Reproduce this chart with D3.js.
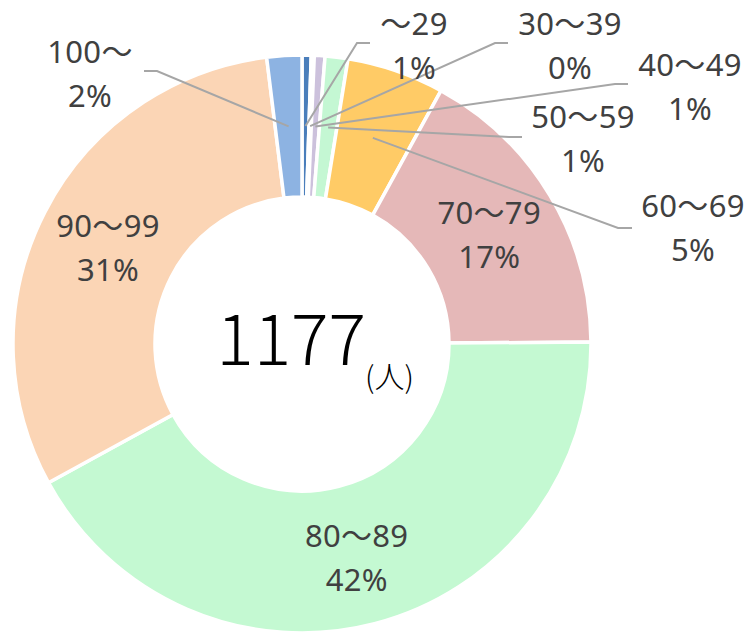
<!DOCTYPE html>
<html>
<head>
<meta charset="utf-8">
<script src="https://cdn.jsdelivr.net/npm/d3@7"></script>
<style>
html,body{margin:0;padding:0;background:#fff;}
svg{display:block;}
</style>
</head>
<body>
<svg id="chart" width="747" height="635"></svg>
<script>
// ---- data ----
const categories = ["～29","30～39","40～49","50～59","60～69","70～79","80～89","90～99","100～"];
const counts = [6, 2, 7, 15, 64, 199, 496, 365, 23];
const colors = ["#4a7ebb","#dcd6e8","#ccc1dc","#c4f7d3","#ffcb66","#e5b8b8","#c4f9d2","#fbd5b5","#8db3e2"];
const totalLabel = "1177";
const unitLabel = "(人)";

// ---- layout (not data) ----
const cx = 302, cy = 344, outerR = 289, innerR = 147;
// outside label placement: [text center x, first baseline y, elbow start x, elbow end x, elbow y]
const outsideLayout = {
  "～29":  [414, 35, 370, 357, 43],
  "30～39":[570, 35, 508, 495, 43],
  "40～49":[690, 76, 628, 615, 84],
  "50～59":[583, 128, 522, 509, 137],
  "60～69":[693, 217, 632, 618, 228],
  "100～": [90, 63, 144, 157, 71]
};

const svg = d3.select("#chart");
const g = svg.append("g").attr("transform", `translate(${cx},${cy})`);

const pie = d3.pie().sort(null).value(d => d.v)(categories.map((c,i)=>({c, v:counts[i], col:colors[i]})));
const arc = d3.arc().innerRadius(innerR).outerRadius(outerR);
const midArc = d3.arc().innerRadius(innerR).outerRadius(outerR);
const total = d3.sum(counts);
const pct = v => Math.round(v/total*100) + "%";

g.selectAll("path.slice").data(pie).join("path")
  .attr("class","slice")
  .attr("d", arc)
  .attr("fill", d => d.data.col)
  .attr("stroke", "#fff")
  .attr("stroke-width", 3.5)
  .attr("stroke-linejoin","miter");

const font = "'Noto Sans','Noto Sans CJK JP',sans-serif";
const fs = 31;

// leader lines
pie.forEach(d => {
  const L = outsideLayout[d.data.c];
  if (!L) return;
  const [px, py] = midArc.centroid(d);
  const pts = [[L[2], L[4]], [L[3], L[4]], [px + cx, py + cy]];
  svg.append("path")
    .attr("d", d3.line()(pts))
    .attr("fill","none")
    .attr("stroke","#a6a6a6")
    .attr("stroke-width",2);
});

// labels
pie.forEach(d => {
  const L = outsideLayout[d.data.c];
  let x, y1, y2;
  if (L) { x = L[0]; y1 = L[1]; y2 = L[1] + 44; }
  else {
    const [px, py] = midArc.centroid(d);
    x = px + cx; y1 = py + cy - 8; y2 = py + cy + 36;
  }
  const t = svg.append("text")
    .attr("text-anchor","middle")
    .attr("font-family", font)
    .attr("font-size", fs)
    .attr("letter-spacing", 0.3)
    .attr("fill","#404040");
  t.append("tspan").attr("x", x).attr("y", y1).text(d.data.c);
  t.append("tspan").attr("x", x).attr("y", y2).text(pct(d.data.v));
});

// center total
svg.append("text")
  .attr("x", 366).attr("y", 365)
  .attr("text-anchor","end")
  .attr("font-family", "'Noto Sans CJK JP',sans-serif")
  .attr("font-weight", 300)
  .attr("font-size", 70)
  .attr("fill","#000")
  .text(totalLabel);
svg.append("text")
  .attr("x", 365).attr("y", 388)
  .attr("text-anchor","start")
  .attr("font-family", "'Noto Sans CJK JP',sans-serif")
  .attr("font-weight", 300)
  .attr("font-size", 30)
  .attr("fill","#000")
  .text(unitLabel);
</script>
</body>
</html>
